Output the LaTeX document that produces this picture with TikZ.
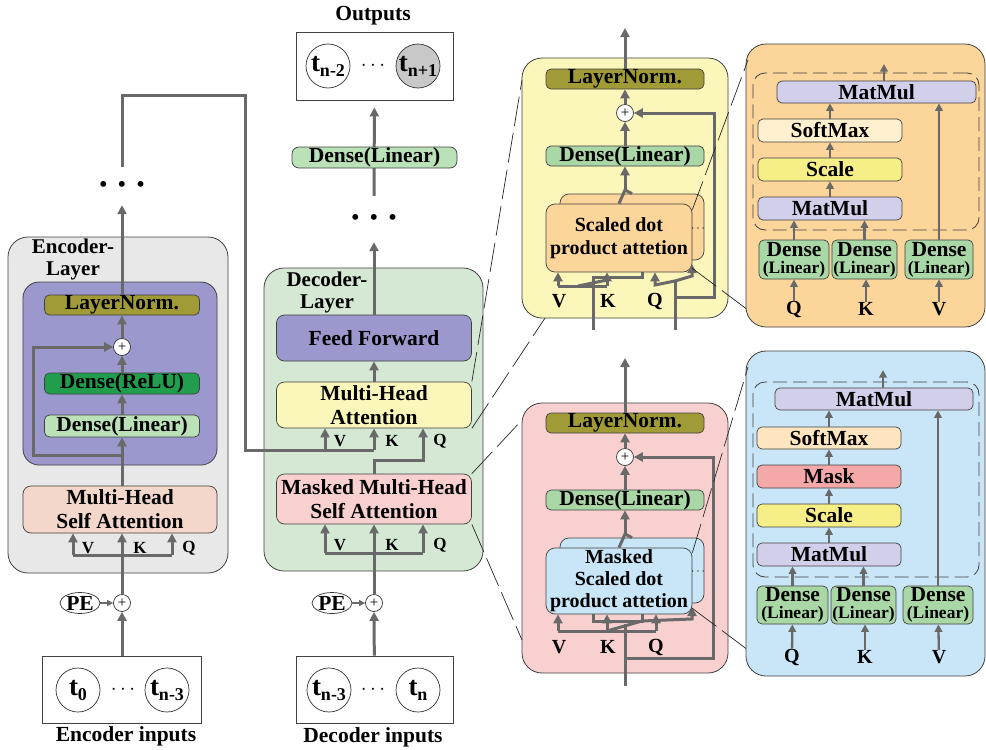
\documentclass[tikz,border=0pt]{standalone}
\usepackage{fontspec}
\setmainfont{Liberation Serif}
\usetikzlibrary{arrows.meta}
\usetikzlibrary{shapes.geometric}

\definecolor{linegray}{RGB}{105,105,105}
\definecolor{encgray}{RGB}{232,232,232}
\definecolor{ffpurple}{RGB}{155,152,205}
\definecolor{normolive}{RGB}{160,155,55}
\definecolor{relugreen}{RGB}{32,158,78}
\definecolor{lingreen}{RGB}{186,225,183}
\definecolor{mhsapink}{RGB}{242,215,202}
\definecolor{decgreen}{RGB}{213,232,212}
\definecolor{mhayellow}{RGB}{251,246,186}
\definecolor{mmhapink}{RGB}{249,208,208}
\definecolor{cardorange}{RGB}{252,213,154}
\definecolor{cardblue}{RGB}{200,230,247}
\definecolor{matlav}{RGB}{210,207,234}
\definecolor{smcream}{RGB}{255,241,207}
\definecolor{smpeach}{RGB}{255,230,192}
\definecolor{scaleyel}{RGB}{246,238,134}
\definecolor{maskred}{RGB}{244,168,168}
\definecolor{qkvgreen}{RGB}{170,215,166}
\definecolor{outgray}{RGB}{200,200,200}

\newcommand{\blkfont}{\fontsize{21.5}{24}\selectfont\bfseries}
\newcommand{\keyfont}{\fontsize{17}{17}\selectfont\bfseries}
\newcommand{\qkvfont}{\fontsize{20}{20}\selectfont\bfseries}
\newcommand{\linfont}{\fontsize{17.5}{17.5}\selectfont}
\newcommand{\tokname}[1]{\fontsize{27}{27}\selectfont t\raisebox{-5pt}{\fontsize{18}{18}\selectfont #1}}

\tikzset{
	blk/.style={ draw=black!75, line width=0.7pt, rounded corners=5pt, inner sep=0pt, align=center, font=\blkfont },
	grp/.style={ draw=black!75, line width=0.8pt, rounded corners=20pt, inner sep=0pt },
	sumnode/.style={ circle, draw=black!80, fill=white, line width=0.7pt, minimum size=17pt, inner sep=0pt, font=\fontsize{15}{15}\selectfont },
	tok/.style={ circle, draw=black!80, fill=white, line width=0.7pt, minimum size=44pt, inner sep=0pt, font=\bfseries },
	seq/.style={ draw=black!75, line width=0.8pt, inner sep=0pt },
	peoval/.style={ ellipse, draw=black!80, line width=0.7pt, minimum width=40pt, minimum height=21pt, inner sep=0pt, font=\blkfont },
	wire/.style={ draw=linegray, line width=3pt },
	flow/.style={ wire, -{Triangle[length=9pt,width=9pt]} },
	thinflow/.style={ draw=linegray, line width=2.3pt, -{Triangle[length=7.5pt,width=7.5pt]} },
	keylbl/.style={ inner sep=0pt, font=\keyfont },
	qkvlbl/.style={ inner sep=0pt, font=\qkvfont },
	plain/.style={ inner sep=0pt, align=center, font=\blkfont },
	grptitle/.style={ inner sep=0pt, align=center, font=\fontsize{21}{22}\selectfont\bfseries },
	zoomline/.style={ draw=black!85, line width=0.7pt, dash pattern=on 30pt off 7pt },
	innerdash/.style={ draw=black!75, line width=0.8pt, rounded corners=12pt, dash pattern=on 14pt off 6pt, inner sep=0pt },
}

\begin{document}
\begin{tikzpicture}[ x=1pt, y=-1pt ]

	\useasboundingbox (0,0) rectangle (986,750);

	% encoder
	\node[ grp, fill=encgray, minimum width=220pt, minimum height=336pt ] (encbox) at (118,405) {};
	\node[ grptitle ] (enctitle) at (73,259) {Encoder-\\Layer};
	\node[ grp, rounded corners=16pt, fill=ffpurple, minimum width=194pt, minimum height=183pt ] (encff) at (120,373.5) {};
	\node[ blk, fill=normolive, minimum width=155pt, minimum height=20pt ] (encln) at (122,305) {LayerNorm.};
	\node[ sumnode ] (encadd) at (122,347) {+};
	\node[ blk, fill=relugreen, minimum width=155pt, minimum height=21pt ] (encrelu) at (122,383.5) {Dense(ReLU)};
	\node[ blk, fill=lingreen, minimum width=155pt, minimum height=22pt ] (enclin) at (122,426) {Dense(Linear)};
	\node[ blk, rounded corners=8pt, fill=mhsapink, minimum width=194pt, minimum height=47pt ] (encmha) at (120,509.5) {Multi-Head\\Self Attention};

	\coordinate (encskip) at (122,455);
	\coordinate (encloop) at (33,347);
	\draw[ flow ] (encmha.north -| encln) -- (enclin);
	\draw[ flow ] (enclin) -- (encrelu);
	\draw[ flow ] (encrelu) -- (encadd);
	\draw[ flow ] (encadd) -- (encln);
	\draw[ flow ] (encskip) -| (encloop) -- (encadd);

	\coordinate (encv) at (73,555);
	\coordinate (encq) at (172,555);
	\draw[ wire ] (encv) -- (encq);
	\draw[ flow ] (encv) -- (encv |- encmha.south);
	\draw[ flow ] (encq) -- (encq |- encmha.south);
	\node[ keylbl ] (encvl) at (88,548) {V};
	\node[ keylbl ] (enckl) at (140,548) {K};
	\node[ keylbl ] (encql) at (189,548) {Q};

	\node[ peoval ] (encpe) at (80,603) {PE};
	\node[ sumnode ] (encpos) at (122,603) {+};
	\node[ seq, minimum width=159pt, minimum height=67pt ] (encin) at (122,689.5) {};
	\node[ tok ] (enctok0) at (78,690) {\tokname{0}};
	\node[ tok ] (enctokn) at (167,690) {\tokname{n-3}};
	\node[ plain ] (encmid) at (123,690) {$\cdots$};
	\node[ plain ] (enccap) at (126,736) {Encoder inputs};
	\draw[ thinflow, line width=1.5pt, -{Triangle[length=6pt,width=6pt]} ] (encpe) -- (encpos);
	\draw[ flow ] (encin) -- (encpos);
	\draw[ flow ] (encpos) -- (encpos |- encmha.south);

	\node[ plain, minimum height=38pt ] (encdots) at (122,186) {\textbullet\hspace{11pt}\textbullet\hspace{11pt}\textbullet};
	\draw[ flow ] (encln) -- (encdots);

	% decoder
	\node[ grp, fill=decgreen, minimum width=219pt, minimum height=303pt ] (decbox) at (373.5,419.5) {};
	\node[ grptitle ] (dectitle) at (327,292) {Decoder-\\Layer};
	\node[ blk, rounded corners=8pt, fill=ffpurple, minimum width=195pt, minimum height=46pt ] (decff) at (374,338) {Feed Forward};
	\node[ blk, rounded corners=8pt, fill=mhayellow, minimum width=195pt, minimum height=46pt ] (decmha) at (374,405) {Multi-Head\\Attention};
	\node[ blk, rounded corners=8pt, fill=mmhapink, minimum width=195pt, minimum height=50pt ] (decmmha) at (374,499) {Masked Multi-Head\\Self Attention};

	\draw[ flow ] (decmha) -- (decff);
	\coordinate (decqc) at (423,460);
	\draw[ flow ] (decmmha) |- (decqc) -- (decqc |- decmha.south);

	\coordinate (crossa) at (245,95);
	\coordinate (crossb) at (245,450);
	\coordinate (decv) at (325,450);
	\coordinate (deck) at (374,450);
	\draw[ wire ] (encdots) |- (crossa) -- (crossb) -- (deck);
	\draw[ flow ] (decv) -- (decv |- decmha.south);
	\draw[ flow ] (deck) -- (deck |- decmha.south);
	\node[ keylbl ] (decvl) at (340,441) {V};
	\node[ keylbl ] (deckl) at (392,441) {K};
	\node[ keylbl ] (decql) at (440,441) {Q};

	\coordinate (decmv) at (325,553);
	\coordinate (decmq) at (423,553);
	\draw[ wire ] (decmv) -- (decmq);
	\draw[ flow ] (decmv) -- (decmv |- decmmha.south);
	\draw[ flow ] (decmq) -- (decmq |- decmmha.south);
	\node[ keylbl ] (decmvl) at (340,545) {V};
	\node[ keylbl ] (decmkl) at (392,545) {K};
	\node[ keylbl ] (decmql) at (440,545) {Q};

	\node[ peoval ] (decpe) at (332,603) {PE};
	\node[ sumnode ] (decpos) at (374,603) {+};
	\node[ seq, minimum width=157pt, minimum height=67pt ] (decin) at (374.5,689.5) {};
	\node[ tok ] (dectok0) at (329,690) {\tokname{n-3}};
	\node[ tok ] (dectokn) at (418,690) {\tokname{n}};
	\node[ plain ] (decmid) at (373,690) {$\cdots$};
	\node[ plain ] (deccap) at (373,737) {Decoder inputs};
	\draw[ thinflow, line width=1.5pt, -{Triangle[length=6pt,width=6pt]} ] (decpe) -- (decpos);
	\draw[ flow ] (decin) -- (decpos);
	\draw[ flow ] (decpos) -- (decpos |- decmmha.south);

	\node[ plain, minimum height=46pt ] (decdots) at (374,219) {\textbullet\hspace{11pt}\textbullet\hspace{11pt}\textbullet};
	\draw[ flow ] (decff) -- (decdots);
	\node[ seq, minimum width=157pt, minimum height=68pt ] (decout) at (374.5,66) {};
	\node[ tok ] (outtok0) at (328,66) {\tokname{n-2}};
	\node[ tok, fill=outgray ] (outtokn) at (418,66) {\tokname{n+1}};
	\node[ plain ] (outmid) at (373,66) {$\cdots$};
	\node[ plain ] (outcap) at (373,16) {Outputs};
	\draw[ flow, shorten >=7pt ] (decdots) -- (decout);
	\node[ blk, rounded corners=7pt, fill=lingreen, minimum width=165pt, minimum height=21pt ] (declin) at (374.5,157.5) {Dense(Linear)};

	% multi-head attention detail
	\node[ grp, fill=mhayellow, minimum width=206pt, minimum height=260pt ] (ybox) at (625,188) {};
	\node[ blk, fill=normolive, minimum width=158pt, minimum height=20pt ] (yln) at (625,79) {LayerNorm.};
	\node[ sumnode ] (yadd) at (625,113) {+};
	\node[ blk, fill=qkvgreen, minimum width=158pt, minimum height=20pt ] (ylin) at (625,156) {Dense(Linear)};
	\node[ blk, rounded corners=9pt, fill=cardorange, minimum width=144pt, minimum height=66pt ] (yback) at (632,227) {};
	\coordinate (ykvin) at (593,330);
	\coordinate (ybrk) at (642,277);
	\draw[ wire ] (ykvin) |- (ybrk) -- (ybrk |- yback.south);
	\node[ blk, rounded corners=9pt, fill=cardorange, font=\fontsize{20}{23}\selectfont\bfseries, minimum width=146pt, minimum height=68pt ] (yfront) at (619,238) {Scaled dot\\product attetion};
	\node[ inner sep=0pt, font=\fontsize{12}{12}\selectfont ] (ymore) at (698,229) {$\cdots$};

	\coordinate (ymerge) at (625,190);
	\coordinate (ytop) at (625,28);
	\draw[ wire ] (yfront.north) -- (ymerge) -- (yback.north);
	\draw[ flow ] (ymerge) -- (ylin);
	\draw[ flow ] (ylin) -- (yadd);
	\draw[ flow ] (yadd) -- (yln);
	\draw[ flow ] (yln) -- (ytop);

	\coordinate (yv) at (558,286);
	\coordinate (yk) at (607,286);
	\draw[ wire ] (yv) -- (yk);
	\draw[ wire ] ([xshift=20pt]yv) -- ([yshift=6pt]yk);
	\draw[ flow ] (yv) -- (yv |- yfront.south);
	\draw[ flow ] (yk) -- (yk |- yfront.south);

	\coordinate (yqin) at (675,330);
	\coordinate (yqj) at (675,281);
	\coordinate (yq) at (655,285);
	\coordinate (yqb) at (692,276);
	\coordinate (yres) at (714,297);
	\draw[ wire ] (yqin) -- (yqj);
	\draw[ flow ] (yqj) -- (yq) -- (yq |- yfront.south);
	\draw[ flow ] (yqj) -- (yqb) -- ++(0,-12);
	\draw[ flow ] (yqin |- yres) -- (yres) |- (yadd);
	\node[ qkvlbl ] (yvl) at (559,301) {V};
	\node[ qkvlbl ] (ykl) at (608,301) {K};
	\node[ qkvlbl ] (yql) at (655,301) {Q};

	% masked attention detail
	\node[ grp, fill=mmhapink, minimum width=206pt, minimum height=270pt ] (pbox) at (625,538) {};
	\node[ blk, fill=normolive, minimum width=158pt, minimum height=20pt ] (pln) at (625,423) {LayerNorm.};
	\node[ sumnode ] (padd) at (625,457) {+};
	\node[ blk, fill=qkvgreen, minimum width=158pt, minimum height=20pt ] (plin) at (625,500) {Dense(Linear)};
	\node[ blk, rounded corners=9pt, fill=cardblue, minimum width=144pt, minimum height=65pt ] (pback) at (632,570.5) {};
	\coordinate (pbrka) at (593,621);
	\coordinate (pbrkb) at (642,621);
	\coordinate (pqb) at (692,619);
	\draw[ wire ] (pbrka |- pback.south) -- (pbrka) -- (pbrkb) -- (pbrkb |- pback.south);
	\draw[ flow ] (pbrkb) -- (pqb) -- ++(0,-12);
	\node[ blk, rounded corners=9pt, fill=cardblue, font=\fontsize{20}{22}\selectfont\bfseries, minimum width=146pt, minimum height=66pt ] (pfront) at (619,581) {Masked\\Scaled dot\\product attetion};
	\node[ inner sep=0pt, font=\fontsize{12}{12}\selectfont ] (pmore) at (698,572) {$\cdots$};

	\coordinate (pmerge) at (625,534);
	\coordinate (ptop) at (625,358);
	\draw[ wire ] (pfront.north) -- (pmerge) -- (pback.north);
	\draw[ flow ] (pmerge) -- (plin);
	\draw[ flow ] (plin) -- (padd);
	\draw[ flow ] (padd) -- (pln);
	\draw[ flow ] (pln) -- (ptop);

	\coordinate (pin) at (625,686);
	\coordinate (pj) at (625,624);
	\coordinate (pv) at (558,631);
	\coordinate (pk) at (607,631);
	\coordinate (pq) at (656,631);
	\coordinate (pres) at (713,658);
	\draw[ wire ] (pin) -- (pj);
	\draw[ wire ] (pv) -- (pq);
	\draw[ wire ] (pk) -- (pbrkb);
	\draw[ flow ] (pv) -- (pv |- pfront.south);
	\draw[ flow ] (pk) -- (pk |- pfront.south);
	\draw[ flow ] (pq) -- (pq |- pfront.south);
	\draw[ flow ] (pin |- pres) -- (pres) |- (padd);
	\node[ qkvlbl ] (pvl) at (559,647) {V};
	\node[ qkvlbl ] (pkl) at (608,647) {K};
	\node[ qkvlbl ] (pql) at (656,647) {Q};

	% scaled dot product detail
	\node[ grp, fill=cardorange, minimum width=239pt, minimum height=283pt ] (obox) at (865.5,185.5) {};
	\node[ innerdash, minimum width=226pt, minimum height=157pt ] (odash) at (866,151.5) {};
	\node[ blk, fill=matlav, minimum width=199pt, minimum height=22pt ] (omm2) at (876.5,92) {MatMul};
	\node[ blk, fill=smcream, minimum width=144pt, minimum height=23pt ] (osm) at (830,130.5) {SoftMax};
	\node[ blk, fill=scaleyel, minimum width=144pt, minimum height=23pt ] (oscale) at (830,169.5) {Scale};
	\node[ blk, fill=matlav, minimum width=144pt, minimum height=23pt ] (omm1) at (830,208.5) {MatMul};
	\node[ blk, fill=qkvgreen, minimum width=70pt, minimum height=39pt ] (odq) at (794,259.5) {Dense\\[-7pt]{\linfont (Linear)}};
	\node[ blk, fill=qkvgreen, minimum width=65pt, minimum height=39pt ] (odk) at (864.5,259.5) {Dense\\[-7pt]{\linfont (Linear)}};
	\node[ blk, fill=qkvgreen, minimum width=68pt, minimum height=39pt ] (odv) at (939,259.5) {Dense\\[-7pt]{\linfont (Linear)}};
	\node[ qkvlbl ] (oq) at (794,309) {Q};
	\node[ qkvlbl ] (ok) at (866,309) {K};
	\node[ qkvlbl ] (ov) at (939,309) {V};
	\coordinate (otop) at (884,64);
	\draw[ thinflow ] (omm1) -- (oscale);
	\draw[ thinflow ] (oscale) -- (osm);
	\draw[ thinflow ] (osm.north) -- (osm.north |- omm2.south);
	\draw[ thinflow ] (odq.north) -- (odq.north |- omm1.south);
	\draw[ thinflow ] (odk.north) -- (odk.north |- omm1.south);
	\draw[ thinflow ] (odv.north) -- (odv.north |- omm2.south);
	\draw[ thinflow ] (otop |- omm2.north) -- (otop);
	\draw[ thinflow ] (oq) -- (odq);
	\draw[ thinflow ] (ok) -- (ok |- odk.south);
	\draw[ thinflow ] (ov) -- (odv);

	% masked scaled dot product detail
	\node[ grp, fill=cardblue, minimum width=239pt, minimum height=325pt ] (bbox) at (865.5,513.5) {};
	\node[ innerdash, minimum width=226pt, minimum height=195pt ] (bdash) at (866,479.5) {};
	\node[ blk, fill=matlav, minimum width=198pt, minimum height=22pt ] (bmm2) at (874,399) {MatMul};
	\node[ blk, fill=smpeach, minimum width=144pt, minimum height=22pt ] (bsm) at (829,438) {SoftMax};
	\node[ blk, fill=maskred, minimum width=144pt, minimum height=23pt ] (bmask) at (829,476.5) {Mask};
	\node[ blk, fill=scaleyel, minimum width=144pt, minimum height=23pt ] (bscale) at (829,515.5) {Scale};
	\node[ blk, fill=matlav, minimum width=144pt, minimum height=23pt ] (bmm1) at (829,554.5) {MatMul};
	\node[ blk, fill=qkvgreen, minimum width=71pt, minimum height=38pt ] (bdq) at (792.5,605) {Dense\\[-7pt]{\linfont (Linear)}};
	\node[ blk, fill=qkvgreen, minimum width=65pt, minimum height=38pt ] (bdk) at (863.5,605) {Dense\\[-7pt]{\linfont (Linear)}};
	\node[ blk, fill=qkvgreen, minimum width=70pt, minimum height=38pt ] (bdv) at (938,605) {Dense\\[-7pt]{\linfont (Linear)}};
	\node[ qkvlbl ] (bq) at (792,657) {Q};
	\node[ qkvlbl ] (bk) at (865,657) {K};
	\node[ qkvlbl ] (bv) at (939,657) {V};
	\coordinate (btop) at (883,370);
	\draw[ thinflow ] (bmm1) -- (bscale);
	\draw[ thinflow ] (bscale) -- (bmask);
	\draw[ thinflow ] (bmask) -- (bsm);
	\draw[ thinflow ] (bsm.north) -- (bsm.north |- bmm2.south);
	\draw[ thinflow ] (bdq.north) -- (bdq.north |- bmm1.south);
	\draw[ thinflow ] (bdk.north) -- (bdk.north |- bmm1.south);
	\draw[ thinflow ] (bdv.north) -- (bdv.north |- bmm2.south);
	\draw[ thinflow ] (btop |- bmm2.north) -- (btop);
	\draw[ thinflow ] (bq) -- (bdq);
	\draw[ thinflow ] (bk) -- (bk |- bdk.south);
	\draw[ thinflow ] (bv) -- (bdv);

	% zoom lines
	\coordinate (yza) at (522,80);
	\coordinate (yzb) at (545,318);
	\coordinate (pza) at (522,420);
	\coordinate (pzb) at (522,640);
	\coordinate (oza) at (748,60);
	\coordinate (ozb) at (748,310);
	\coordinate (bza) at (748,367);
	\coordinate (bzb) at (748,650);
	\draw[ zoomline ] (decmha.north east) -- (yza);
	\draw[ zoomline ] (decmha.south east) -- (yzb);
	\draw[ zoomline ] (decmmha.north east) -- (pza);
	\draw[ zoomline ] (decmmha.south east) -- (pzb);
	\draw[ zoomline ] ([yshift=-6pt]yfront.north east) -- (oza);
	\draw[ zoomline ] ([yshift=4pt]yfront.south east) -- (ozb);
	\draw[ zoomline ] ([yshift=-5pt]pfront.north east) -- (bza);
	\draw[ zoomline ] ([yshift=6pt]pfront.south east) -- (bzb);

\end{tikzpicture}
\end{document}
